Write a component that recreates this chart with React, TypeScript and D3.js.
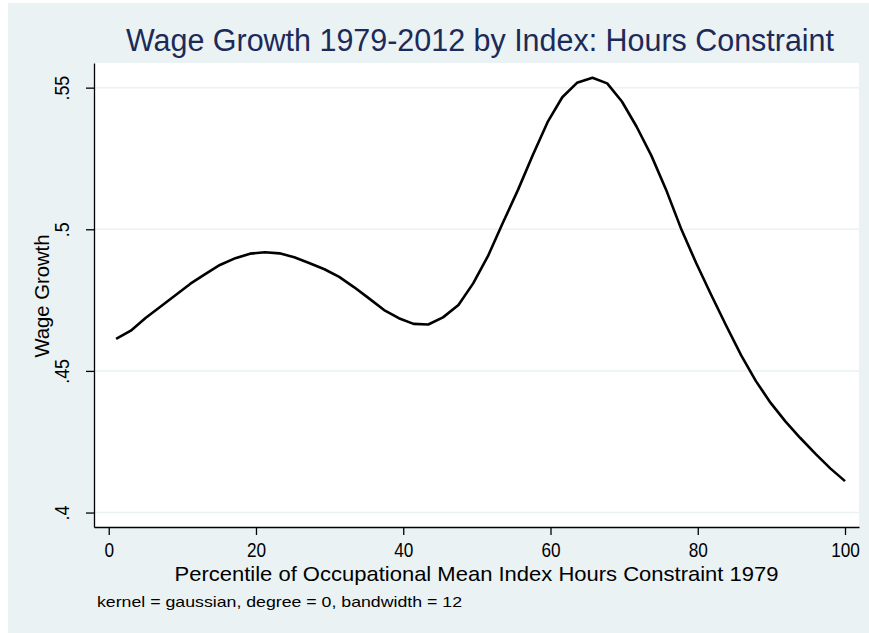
import { axisBottom, axisLeft, line, scaleLinear, select } from "d3";
import React, { useEffect, useRef } from "react";

// lpoly grid points (percentile) and smoothed wage growth
const percentile = [
  1, 3, 5, 7.1, 9.1, 11.1, 13.1, 15.1, 17.2, 19.2, 21.2, 23.2, 25.2, 27.3,
  29.3, 31.3, 33.3, 35.3, 37.4, 39.4, 41.4, 43.4, 45.4, 47.5, 49.5, 51.5,
  53.5, 55.6, 57.6, 59.6, 61.6, 63.6, 65.7, 67.7, 69.7, 71.7, 73.7, 75.8,
  77.8, 79.8, 81.8, 83.8, 85.9, 87.9, 89.9, 91.9, 93.9, 96, 98, 100,
];
const wageGrowth = [
  0.4613, 0.4642, 0.4687, 0.4728, 0.4768, 0.4808, 0.4842, 0.4874, 0.4898,
  0.4914, 0.4919, 0.4915, 0.4901, 0.488, 0.4859, 0.4832, 0.4796, 0.4757,
  0.4715, 0.4686, 0.4666, 0.4664, 0.4689, 0.4733, 0.4809, 0.4905, 0.5021,
  0.514, 0.5262, 0.5378, 0.5466, 0.5517, 0.5535, 0.5515, 0.5451, 0.5362,
  0.526, 0.5133, 0.4998, 0.488, 0.477, 0.4663, 0.4555, 0.4464, 0.4387,
  0.4322, 0.4264, 0.4207, 0.4156, 0.4111,
];
const xTicks = [0, 20, 40, 60, 80, 100];
const yTicks = [0.4, 0.45, 0.5, 0.55];

const title = "Wage Growth 1979-2012 by Index: Hours Constraint";
const xTitle = "Percentile of Occupational Mean Index Hours Constraint 1979";
const yTitle = "Wage Growth";
const note = "kernel = gaussian, degree = 0, bandwidth = 12";

const FONT = "'Liberation Sans', Arial, Helvetica, sans-serif";
const BG = "#eaf2f3";

export default function App() {
  const svgRef = useRef<SVGSVGElement>(null);

  useEffect(() => {
    const svg = select(svgRef.current);
    const left = 94;
    const right = 859;
    const top = 63;
    const bottom = 527;

    const x = scaleLinear().domain([-2, 101.9]).range([left, right]);
    const y = scaleLinear().domain([0.3949, 0.5587]).range([bottom, top]);

    svg
      .select(".grid")
      .selectAll("line")
      .data(yTicks)
      .join("line")
      .attr("x1", left)
      .attr("x2", right)
      .attr("y1", (d) => y(d))
      .attr("y2", (d) => y(d))
      .attr("stroke", BG)
      .attr("stroke-width", 1.5);

    const lineGenerator = line<number>()
      .x((_, i) => x(percentile[i]))
      .y((d) => y(d));

    svg
      .select(".content")
      .selectAll("path")
      .data([wageGrowth])
      .join("path")
      .attr("d", lineGenerator)
      .attr("fill", "none")
      .attr("stroke", "#000")
      .attr("stroke-width", 2.6)
      .attr("stroke-linejoin", "round");

    const xAxis = axisBottom(x)
      .tickValues(xTicks)
      .tickSize(8)
      .tickSizeOuter(0)
      .tickPadding(7);
    const gx = svg
      .select<SVGGElement>(".x-axis")
      .attr("transform", `translate(0, ${bottom})`)
      .call(xAxis);
    gx.attr("font-family", FONT).attr("font-size", 21);
    gx.selectAll("path, line").attr("stroke", "#000").attr("stroke-width", 1.3);
    gx.selectAll("text").attr("fill", "#000").attr("transform", "scale(0.82, 1)");

    const yAxis = axisLeft(y)
      .tickValues(yTicks)
      .tickSize(8)
      .tickSizeOuter(0)
      .tickFormat((d) => String(d).replace(/^0/, ""));
    const gy = svg
      .select<SVGGElement>(".y-axis")
      .attr("transform", `translate(${left}, 0)`)
      .call(yAxis);
    gy.attr("font-family", FONT).attr("font-size", 21);
    gy.selectAll("path, line").attr("stroke", "#000").attr("stroke-width", 1.3);
    gy.selectAll("text")
      .attr("fill", "#000")
      .attr("x", null)
      .attr("dy", null)
      .attr("text-anchor", "middle")
      .attr("transform", "translate(-25, 0) rotate(-90) scale(0.85, 1)");
  }, []);

  return (
    <svg
      ref={svgRef}
      width={869}
      height={633}
      style={{ position: "absolute", left: 0, top: 0, background: "#fff" }}
    >
      <rect x={8} y={3} width={861} height={630} fill={BG} />
      <rect x={94} y={63} width={765} height={464} fill="#fff" />
      <g className="grid" />
      <g className="content" />
      <g className="x-axis" />
      <g className="y-axis" />
      <text
        x={480}
        y={51}
        textAnchor="middle"
        fontFamily={FONT}
        fontSize={31}
        fill="#1c2a59"
        textLength={708}
        lengthAdjust="spacingAndGlyphs"
      >
        {title}
      </text>
      <text
        x={476.5}
        y={581}
        textAnchor="middle"
        fontFamily={FONT}
        fontSize={21}
        fill="#000"
        textLength={604}
        lengthAdjust="spacingAndGlyphs"
      >
        {xTitle}
      </text>
      <text
        transform="translate(49, 296) rotate(-90)"
        textAnchor="middle"
        fontFamily={FONT}
        fontSize={21}
        fill="#000"
        textLength={123}
        lengthAdjust="spacingAndGlyphs"
      >
        {yTitle}
      </text>
      <text
        x={97}
        y={607}
        fontFamily={FONT}
        fontSize={15}
        fill="#000"
        textLength={365}
        lengthAdjust="spacingAndGlyphs"
      >
        {note}
      </text>
    </svg>
  );
}
